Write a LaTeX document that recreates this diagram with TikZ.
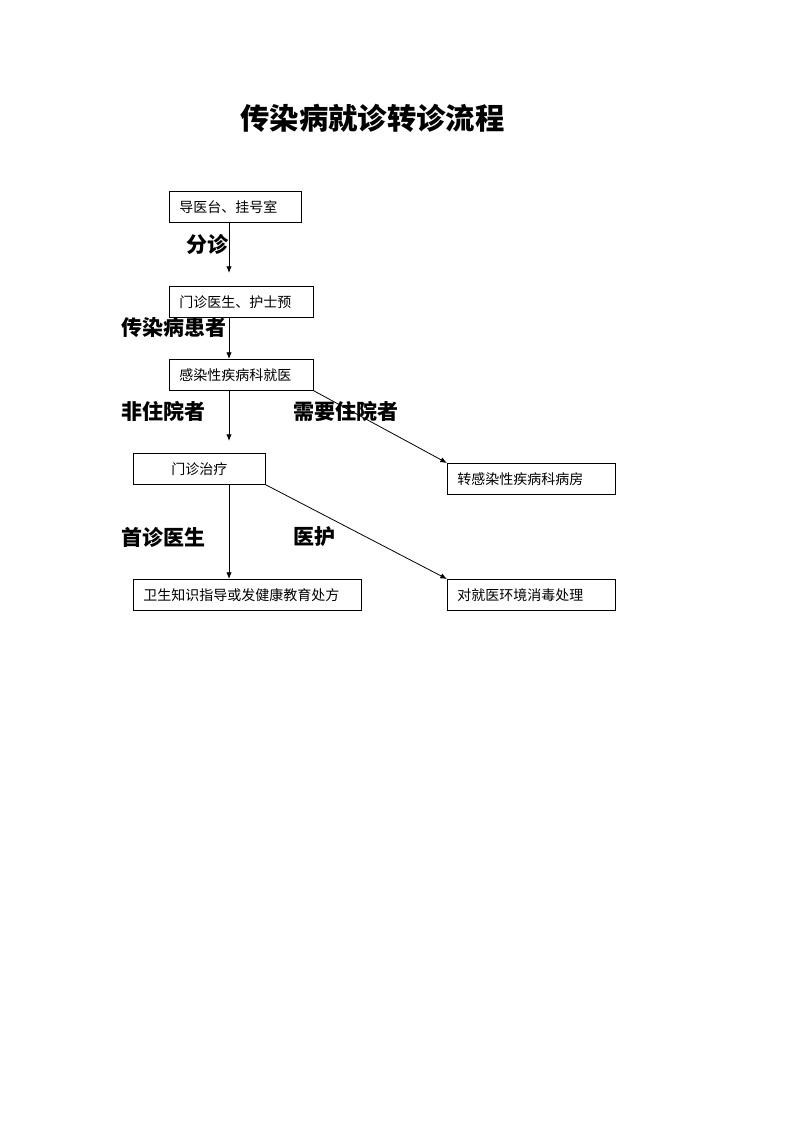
\documentclass[tikz,border=0pt]{standalone}
\usepackage{fontspec}
\newfontfamily\cjk{Noto Sans CJK SC}
\usepackage{tikz}
\usetikzlibrary{arrows.meta,positioning}

\begin{document}
\begin{tikzpicture}[x=0.75pt,y=-0.75pt,line width=0.6pt,
    >={Latex[length=5pt,width=4pt]},
    stepbox/.style={draw,
        anchor=north west,
        minimum height=23.25pt,
        inner xsep=7.5pt,
        align=left,
        font=\cjk\fontsize{10.5}{12}\selectfont},
    flowlabel/.style={anchor=west,
        inner sep=0pt,
        font=\cjk\bfseries\fontsize{15.75}{18}\selectfont}
]

\useasboundingbox (0,0) rectangle (800,1132);

\node[anchor=west,inner sep=0pt,font=\cjk\bfseries\fontsize{22}{26}\selectfont]
    (title) at (240,118) {传染病就诊转诊流程};

\node[stepbox,text width=84pt] (block1) at (169,191) {导医台、挂号室};
\node[stepbox,text width=93pt] (block2) at (169,286) {门诊医生、护士预};
\node[stepbox,text width=93pt] (block3) at (169,359) {感染性疾病科就医};
\node[stepbox,text width=84pt,align=center] (block4) at (133,453) {门诊治疗};
\node[stepbox,text width=111pt] (block5) at (447,463) {转感染性疾病科病房};
\node[stepbox,text width=156pt] (block6) at (133,579) {卫生知识指导或发健康教育处方};
\node[stepbox,text width=111pt] (block7) at (447,579) {对就医环境消毒处理};

\coordinate (trunk) at (229,0);

\node[flowlabel] (lblTriage) at (186,244) {分诊};
\node[flowlabel] (lblPatient) at (121,327) {传染病患者};
\node[flowlabel] (lblOutpatient) at (121,411) {非住院者};
\node[flowlabel] (lblInpatient) at (293,411) {需要住院者};
\node[flowlabel] (lblDoctor) at (121,537) {首诊医生};
\node[flowlabel] (lblNurse) at (293,537) {医护};

\draw[->,shorten >=9.75pt] (block1.south -| trunk) -- (block2.north -| trunk);
\draw[->] (block2.south -| trunk) -- (block3.north -| trunk);
\draw[->,shorten >=9pt] (block3.south -| trunk) -- (block4.north -| trunk);
\draw[->] (block3.south east) -- (block5.north west);
\draw[->] (block4.south -| trunk) -- (block6.north -| trunk);
\draw[->] (block4.south east) -- (block7.north west);

\end{tikzpicture}
\end{document}
